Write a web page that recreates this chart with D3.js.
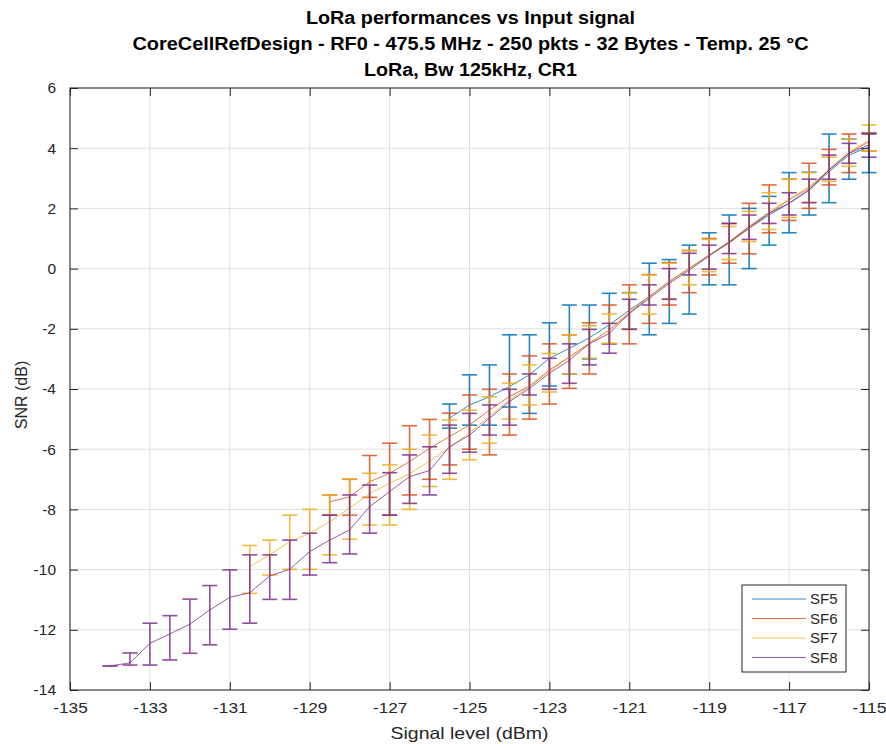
<!DOCTYPE html>
<html>
<head>
<meta charset="utf-8">
<script src="https://cdn.jsdelivr.net/npm/d3@7"></script>
<style>
  html, body { margin: 0; padding: 0; background: #fff; }
  svg { display: block; font-family: "Liberation Sans", Arial, Helvetica, sans-serif; }
</style>
</head>
<body>
<svg id="chart" width="886" height="744"></svg>
<script>
// ---- Data ----
const titleLines = [
  "LoRa performances vs Input signal",
  "CoreCellRefDesign - RF0 - 475.5 MHz - 250 pkts - 32 Bytes - Temp. 25 °C",
  "LoRa, Bw 125kHz, CR1"
];
const xLabel = "Signal level (dBm)";
const yLabel = "SNR (dB)";
const xTicks = [-135, -133, -131, -129, -127, -125, -123, -121, -119, -117, -115];
const yTicks = [6, 4, 2, 0, -2, -4, -6, -8, -10, -12, -14];
const seriesNames = ["SF5", "SF6", "SF7", "SF8"];
const seriesColors = ["#0072BD", "#D95319", "#EDB120", "#7E2F8E"];

// SF5: signal levels, mean SNR, min SNR, max SNR
const sf5X    = [-125.5,-125,-124.5,-124,-123.5,-123,-122.5,-122,-121.5,-121,-120.5,-120,-119.5,-119,-118.5,-118,-117.5,-117,-116.5,-116,-115.5,-115];
const sf5Mean = [-4.97,-4.53,-4.26,-3.92,-3.53,-2.98,-2.65,-2.30,-1.87,-1.38,-0.93,-0.43,0.01,0.45,0.89,1.34,1.78,2.17,2.61,3.22,3.77,4.05];
const sf5Min  = [-5.30,-5.20,-5.20,-4.60,-4.81,-3.90,-3.50,-3.00,-2.50,-2.00,-2.20,-1.82,-1.51,-0.54,-0.54,0.00,0.78,1.19,1.78,2.19,2.97,3.19];
const sf5Max  = [-4.50,-3.53,-3.20,-2.20,-2.20,-1.80,-1.21,-1.21,-0.82,-0.80,0.18,0.30,0.78,1.19,1.78,2.00,2.40,3.19,3.20,4.47,4.30,4.50];

const sf6X    = [-128.5,-128,-127.5,-127,-126.5,-126,-125.5,-125,-124.5,-124,-123.5,-123,-122.5,-122,-121.5,-121,-120.5,-120,-119.5,-119,-118.5,-118,-117.5,-117,-116.5,-116,-115.5,-115];
const sf6Mean = [-7.75,-7.58,-7.08,-6.80,-6.41,-5.97,-5.58,-5.20,-4.70,-4.25,-3.90,-3.37,-2.93,-2.48,-2.04,-1.49,-0.93,-0.43,0.01,0.45,0.85,1.34,1.84,2.28,2.67,3.28,3.83,4.22];
const sf6Min  = [-8.19,-8.19,-7.60,-8.19,-7.52,-7.00,-6.52,-6.00,-6.19,-5.53,-5.00,-4.50,-3.98,-3.50,-2.50,-2.50,-1.82,-1.21,-0.80,-0.21,0.18,0.49,1.19,1.60,2.00,2.78,3.19,3.90];
const sf6Max  = [-7.52,-7.00,-6.21,-5.80,-5.22,-5.01,-4.80,-4.20,-4.01,-3.50,-2.90,-2.50,-2.20,-1.80,-1.21,-0.54,-0.20,0.20,0.60,1.00,1.50,2.17,2.78,2.97,3.50,3.96,4.47,4.50];

const sf7X    = [-130.5,-130,-129.5,-129,-128.5,-128,-127.5,-127,-126.5,-126,-125.5,-125,-124.5,-124,-123.5,-123,-122.5,-122,-121.5,-121,-120.5,-120,-119.5,-119,-118.5,-118,-117.5,-117,-116.5,-116,-115.5,-115];
const sf7Mean = [-9.90,-9.51,-9.07,-8.80,-8.41,-7.96,-7.47,-7.13,-6.82,-6.40,-5.95,-5.45,-4.90,-4.37,-3.92,-3.42,-2.95,-2.48,-2.04,-1.43,-0.93,-0.43,0.01,0.45,0.90,1.40,1.89,2.30,2.72,3.30,3.88,4.25];
const sf7Min  = [-10.79,-10.18,-9.99,-9.99,-9.51,-8.99,-8.52,-8.52,-8.00,-7.24,-7.00,-6.35,-5.80,-5.00,-4.53,-4.10,-3.50,-2.98,-2.48,-2.00,-1.51,-1.00,-0.54,-0.10,0.30,0.90,1.30,1.70,2.20,2.90,3.40,3.90];
const sf7Max  = [-9.20,-9.02,-8.19,-8.00,-7.52,-6.99,-6.80,-6.52,-6.00,-5.53,-5.03,-4.70,-4.26,-3.81,-3.20,-2.82,-2.20,-1.90,-1.51,-0.80,-0.21,0.18,0.60,0.97,1.40,1.90,2.52,2.97,3.19,3.70,4.30,4.77];

const sf8X    = [-134,-133.5,-133,-132.5,-132,-131.5,-131,-130.5,-130,-129.5,-129,-128.5,-128,-127.5,-127,-126.5,-126,-125.5,-125,-124.5,-124,-123.5,-123,-122.5,-122,-121.5,-121,-120.5,-120,-119.5,-119,-118.5,-118,-117.5,-117,-116.5,-116,-115.5,-115];
const sf8Mean = [-13.20,-13.10,-12.45,-12.14,-11.81,-11.34,-10.92,-10.77,-10.21,-9.99,-9.40,-9.02,-8.68,-7.91,-7.41,-6.91,-6.71,-5.92,-5.53,-4.97,-4.42,-3.98,-3.48,-3.04,-2.50,-2.15,-1.49,-0.99,-0.49,-0.05,0.42,0.87,1.39,1.84,2.17,2.61,3.28,3.83,4.11];
const sf8Min  = [-13.20,-13.17,-13.17,-13.00,-12.78,-12.50,-11.98,-11.78,-10.99,-10.99,-10.18,-9.77,-9.48,-8.79,-8.19,-7.80,-7.52,-6.80,-6.10,-5.53,-5.20,-4.20,-4.01,-3.81,-3.20,-2.81,-2.02,-1.21,-1.02,-0.21,-0.02,0.50,0.97,1.50,1.78,2.19,2.97,3.50,3.70];
const sf8Max  = [-13.20,-12.77,-11.78,-11.53,-10.98,-10.53,-10.01,-9.51,-9.51,-9.02,-8.79,-8.19,-7.52,-7.19,-6.78,-6.19,-5.92,-5.20,-4.81,-4.53,-4.01,-3.50,-2.98,-2.50,-2.02,-1.82,-1.02,-0.54,0.00,0.51,0.78,1.50,1.78,2.17,2.52,2.97,3.77,4.16,4.47];

const allX = [sf5X, sf6X, sf7X, sf8X];
const allMean = [sf5Mean, sf6Mean, sf7Mean, sf8Mean];
const allMin = [sf5Min, sf6Min, sf7Min, sf8Min];
const allMax = [sf5Max, sf6Max, sf7Max, sf8Max];

// ---- Layout ----
const svg = d3.select("#chart");
const m = { left: 70, right: 869, top: 88, bottom: 690 };
const x = d3.scaleLinear().domain([-135, -115]).range([m.left, m.right]);
const y = d3.scaleLinear().domain([-14, 6]).range([m.bottom, m.top]);
const axisColor = "#262626";

// grid
const grid = svg.append("g");
grid.selectAll("line.vx").data(xTicks).enter().append("line")
  .attr("x1", d => x(d)).attr("x2", d => x(d)).attr("y1", m.top).attr("y2", m.bottom)
  .attr("stroke", "#dfdfdf").attr("stroke-width", 1);
grid.selectAll("line.hy").data(yTicks).enter().append("line")
  .attr("y1", d => y(d)).attr("y2", d => y(d)).attr("x1", m.left).attr("x2", m.right)
  .attr("stroke", "#dfdfdf").attr("stroke-width", 1);

// series
const cap = 7.5;
const dataG = svg.append("g");
seriesNames.forEach((name, si) => {
  const pts = allX[si].map((v, i) => ({ x: v, m: allMean[si][i], lo: allMin[si][i], hi: allMax[si][i] }));
  const col = seriesColors[si];
  const g = dataG.append("g");
  g.append("path").datum(pts)
    .attr("d", d3.line().x(d => x(d.x)).y(d => y(d.m)))
    .attr("fill", "none").attr("stroke", col).attr("stroke-width", 1).attr("opacity", 0.8);
  const eb = g.selectAll("g.eb").data(pts).enter().append("g")
    .attr("stroke", col).attr("stroke-width", 1.6).attr("opacity", 0.85);
  eb.append("line").attr("x1", d => x(d.x)).attr("x2", d => x(d.x))
    .attr("y1", d => y(d.lo)).attr("y2", d => y(d.hi));
  eb.append("line").attr("x1", d => x(d.x) - cap).attr("x2", d => x(d.x) + cap)
    .attr("y1", d => y(d.lo)).attr("y2", d => y(d.lo));
  eb.append("line").attr("x1", d => x(d.x) - cap).attr("x2", d => x(d.x) + cap)
    .attr("y1", d => y(d.hi)).attr("y2", d => y(d.hi));
});

// axes
const tickLen = 8;
const axG = svg.append("g");
axG.append("rect").attr("x", m.left).attr("y", m.top)
  .attr("width", m.right - m.left).attr("height", m.bottom - m.top)
  .attr("fill", "none").attr("stroke", axisColor).attr("stroke-width", 1);
const fmt = d => String(d);
const bottomAxis = d3.axisBottom(x).tickValues(xTicks).tickSizeInner(-tickLen).tickSizeOuter(0).tickPadding(tickLen + 4).tickFormat(fmt);
const leftAxis = d3.axisLeft(y).tickValues(yTicks).tickSizeInner(-tickLen).tickSizeOuter(0).tickPadding(tickLen + 6).tickFormat(fmt);
const topAxis = d3.axisTop(x).tickValues(xTicks).tickSizeInner(-tickLen).tickSizeOuter(0).tickFormat("");
const rightAxis = d3.axisRight(y).tickValues(yTicks).tickSizeInner(-tickLen).tickSizeOuter(0).tickFormat("");
function styleAxis(g) {
  g.select(".domain").remove();
  g.selectAll(".tick line").attr("stroke", axisColor);
  g.selectAll(".tick text").attr("fill", axisColor).attr("font-size", 15.5)
    .attr("font-family", "Liberation Sans, Arial, sans-serif");
}
const bx = axG.append("g").attr("transform", `translate(0,${m.bottom})`).call(bottomAxis).call(styleAxis);
bx.selectAll(".tick text").attr("textLength", d => String(d).length * 8.6).attr("lengthAdjust", "spacingAndGlyphs");
axG.append("g").attr("transform", `translate(${m.left},0)`).call(leftAxis).call(styleAxis);
axG.append("g").attr("transform", `translate(0,${m.top})`).call(topAxis).call(styleAxis);
axG.append("g").attr("transform", `translate(${m.right},0)`).call(rightAxis).call(styleAxis);

// axis labels
svg.append("text").attr("x", (m.left + m.right) / 2).attr("y", 739)
  .attr("text-anchor", "middle").attr("font-size", 16.5).attr("fill", axisColor)
  .attr("textLength", 158).attr("lengthAdjust", "spacingAndGlyphs").text(xLabel);
svg.append("text").attr("transform", `translate(27,${(m.top + m.bottom) / 2 + 6}) rotate(-90)`)
  .attr("text-anchor", "middle").attr("font-size", 16).attr("fill", axisColor).text(yLabel);

// title
const titleWidths = [329, 676, 213];
titleLines.forEach((t, i) => {
  svg.append("text").attr("x", (m.left + m.right) / 2 + 1).attr("y", 24 + i * 26)
    .attr("text-anchor", "middle").attr("font-size", 17.5).attr("font-weight", "bold")
    .attr("textLength", titleWidths[i]).attr("lengthAdjust", "spacingAndGlyphs")
    .attr("fill", "#000").text(t);
});

// legend
const lg = svg.append("g").attr("transform", "translate(742,585)");
lg.append("rect").attr("width", 104).attr("height", 87).attr("fill", "#fff")
  .attr("stroke", axisColor).attr("stroke-width", 1);
seriesNames.forEach((name, i) => {
  const yy = 14 + i * 19.5;
  lg.append("line").attr("x1", 10).attr("x2", 64).attr("y1", yy).attr("y2", yy)
    .attr("stroke", seriesColors[i]).attr("stroke-width", 1.2).attr("opacity", 0.8);
  lg.append("text").attr("x", 68).attr("y", yy + 5).attr("font-size", 15)
    .attr("fill", axisColor).text(name);
});
</script>
</body>
</html>
